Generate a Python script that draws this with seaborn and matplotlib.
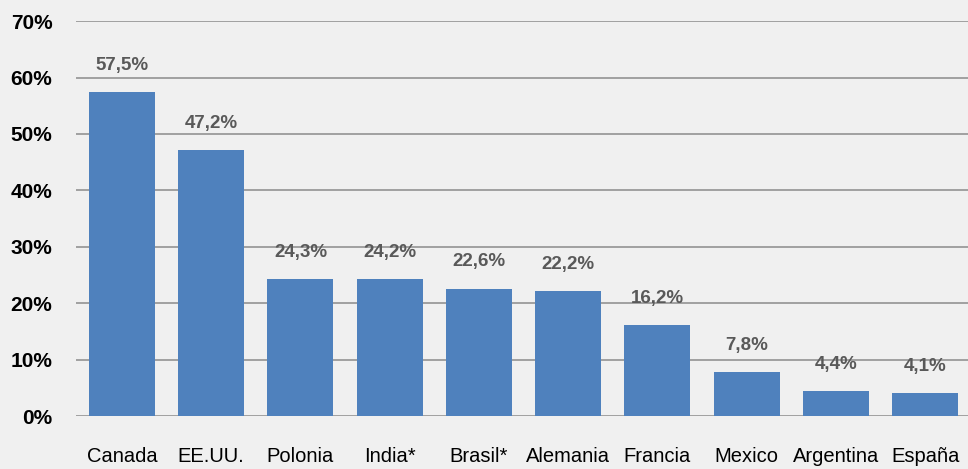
import matplotlib
matplotlib.use("Agg")
import matplotlib.pyplot as plt
import seaborn as sns
import pandas as pd

paises = ["Canada", "EE.UU.", "Polonia", "India*", "Brasil*", "Alemania",
          "Francia", "Mexico", "Argentina", "España"]
valores = [57.5, 47.2, 24.3, 24.2, 22.6, 22.2, 16.2, 7.8, 4.4, 4.1]
etiquetas = ["57,5%", "47,2%", "24,3%", "24,2%", "22,6%", "22,2%",
             "16,2%", "7,8%", "4,4%", "4,1%"]
yticks = [0, 10, 20, 30, 40, 50, 60, 70]

sns.set_style("white")
plt.rcParams['font.family'] = ['Liberation Sans', 'DejaVu Sans']

df = pd.DataFrame({"pais": paises, "valor": valores})

bg = "#F0F0F0"
fig = plt.figure(figsize=(9.68, 4.69), dpi=100, facecolor=bg)
ax = fig.add_axes([0.0785, 0.113, 0.9215, 0.842])
ax.set_facecolor(bg)

sns.barplot(data=df, x="pais", y="valor", color="#4F81BD", saturation=1,
            width=0.74, ax=ax, zorder=3, edgecolor="none", linewidth=0)

for i, (v, t) in enumerate(zip(valores, etiquetas)):
    ax.annotate(t, (i, v), xytext=(0, 13), textcoords="offset points",
                ha="center", va="bottom", fontsize=13.5, fontweight="bold",
                color="#595959", zorder=4)

ax.set_ylim(0, 70)
ax.set_xlim(-0.515, 9.48)
ax.set_yticks(yticks)
ax.set_yticklabels([f"{t}%" for t in yticks], fontsize=15, fontweight="bold",
                   color="black")
ax.yaxis.grid(True, color="#A0A0A0", linewidth=1.4, zorder=0)
ax.set_axisbelow(True)
ax.tick_params(axis="y", length=0, pad=17)
ax.tick_params(axis="x", length=0, pad=22, labelsize=14.5, labelcolor="black")
ax.set_xlabel("")
ax.set_ylabel("")
for s in ax.spines.values():
    s.set_visible(False)

fig.savefig("out.png", dpi=100, facecolor=bg)
